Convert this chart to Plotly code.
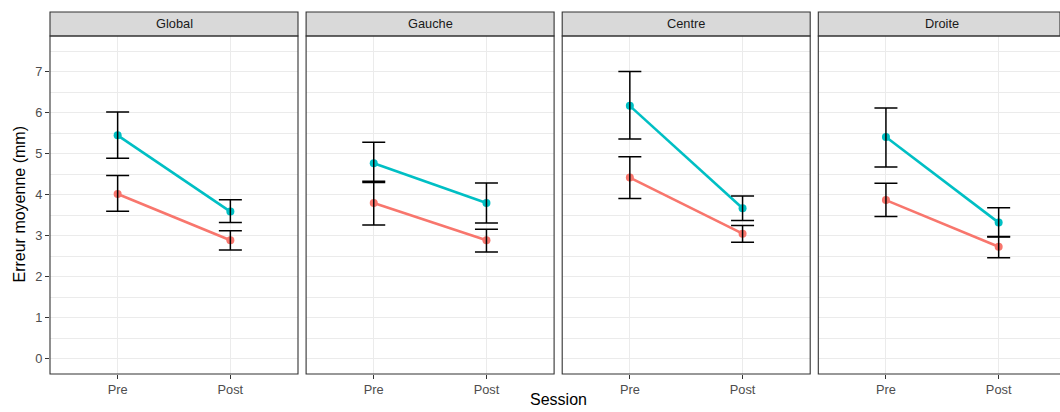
import plotly.graph_objects as go

# ---- data ----
facets = ["Global", "Gauche", "Centre", "Droite"]
sessions = ["Pre", "Post"]
group_names = ["Groupe 1", "Groupe 2"]
group_colors = ["#F8766D", "#00BFC4"]

red_mean = {"Global": [4.02, 2.89], "Gauche": [3.80, 2.89], "Centre": [4.42, 3.05], "Droite": [3.87, 2.73]}
red_upper = {"Global": [4.47, 3.12], "Gauche": [4.33, 3.16], "Centre": [4.93, 3.25], "Droite": [4.28, 2.98]}
red_lower = {"Global": [3.60, 2.65], "Gauche": [3.26, 2.60], "Centre": [3.91, 2.84], "Droite": [3.47, 2.46]}

teal_mean = {"Global": [5.45, 3.59], "Gauche": [4.77, 3.80], "Centre": [6.17, 3.67], "Droite": [5.41, 3.32]}
teal_upper = {"Global": [6.02, 3.88], "Gauche": [5.28, 4.29], "Centre": [7.01, 3.97], "Droite": [6.12, 3.68]}
teal_lower = {"Global": [4.89, 3.32], "Gauche": [4.30, 3.31], "Centre": [5.36, 3.37], "Droite": [4.68, 2.97]}

y_title = "Erreur moyenne (mm)"
x_title = "Session"

# ---- layout geometry (pixels) ----
W, H = 1060, 412
panel_left = 50.0
panel_w = 248.0
panel_gap = 8.1
panel_top = 36.0
panel_bottom = 374.0
strip_top = 12.0
y_range = [-0.375, 7.875]

def px(x):
    return x / W

def py(y):
    return 1 - y / H

fig = go.Figure()
shapes = []
annotations = []

groups = [(red_mean, red_upper, red_lower), (teal_mean, teal_upper, teal_lower)]
xpos = [1, 2]

for i, f in enumerate(facets):
    ax = "" if i == 0 else str(i + 1)
    xa, ya = "x" + ax, "y" + ax
    x0 = panel_left + i * (panel_w + panel_gap)
    x1 = x0 + panel_w
    vis_x1 = min(x1, W)
    xr = [0.4, 0.4 + 2.2 * (vis_x1 - x0) / panel_w]

    # lines + points
    for g, (m, u, l) in enumerate(groups):
        fig.add_trace(go.Scatter(
            x=xpos, y=m[f], mode="lines+markers", xaxis=xa, yaxis=ya,
            name=group_names[g], showlegend=False,
            line=dict(color=group_colors[g], width=2.6),
            marker=dict(color=group_colors[g], size=8),
            hoverinfo="skip"))
    # error bars on top
    for g, (m, u, l) in enumerate(groups):
        fig.add_trace(go.Scatter(
            x=xpos, y=m[f], mode="markers", xaxis=xa, yaxis=ya,
            showlegend=False, hoverinfo="skip",
            marker=dict(size=1, color="rgba(0,0,0,0)"),
            error_y=dict(type="data", symmetric=False,
                         array=[uu - mm for uu, mm in zip(u[f], m[f])],
                         arrayminus=[mm - ll for mm, ll in zip(m[f], l[f])],
                         color="black", thickness=1.5, width=11.5)))

    fig.layout["xaxis" + ax] = dict(
        domain=[px(x0), px(vis_x1)], range=xr, anchor=ya,
        tickmode="array", tickvals=xpos, ticktext=sessions,
        showgrid=True, gridcolor="#EBEBEB", gridwidth=1.1, zeroline=False,
        ticks="outside", ticklen=4, tickcolor="#333333", tickwidth=1,
        tickfont=dict(family="Liberation Sans, Arial", size=12.8, color="#4D4D4D"),
        showline=False, fixedrange=True)
    fig.layout["yaxis" + ax] = dict(
        domain=[py(panel_bottom), py(panel_top)], range=y_range, anchor=xa,
        tickmode="linear", tick0=0, dtick=1,
        showgrid=True, gridcolor="#EBEBEB", gridwidth=1.1, zeroline=False,
        minor=dict(dtick=0.5, tick0=0, showgrid=True, gridcolor="#EBEBEB", gridwidth=0.55, ticks=""),
        ticks="outside" if i == 0 else "", ticklen=4, tickcolor="#333333", tickwidth=1,
        showticklabels=(i == 0),
        tickfont=dict(family="Liberation Sans, Arial", size=12.8, color="#4D4D4D"),
        showline=False, fixedrange=True)

    # panel border (open on right if cut by the window)
    if x1 <= W:
        path = f"M {px(x0)},{py(panel_top)} L {px(x1)},{py(panel_top)} L {px(x1)},{py(panel_bottom)} L {px(x0)},{py(panel_bottom)} Z"
        spath = f"M {px(x0)},{py(strip_top)} L {px(x1)},{py(strip_top)} L {px(x1)},{py(panel_top)} L {px(x0)},{py(panel_top)} Z"
    else:
        path = f"M {px(vis_x1)},{py(panel_top)} L {px(x0)},{py(panel_top)} L {px(x0)},{py(panel_bottom)} L {px(vis_x1)},{py(panel_bottom)}"
        spath = f"M {px(vis_x1)},{py(strip_top)} L {px(x0)},{py(strip_top)} L {px(x0)},{py(panel_top)} L {px(vis_x1)},{py(panel_top)} Z"
    shapes.append(dict(type="path", xref="paper", yref="paper", path=spath,
                       fillcolor="#D9D9D9", line=dict(color="#333333", width=1.1), layer="above"))
    shapes.append(dict(type="path", xref="paper", yref="paper", path=path,
                       line=dict(color="#333333", width=1.1), layer="above"))
    annotations.append(dict(text=f, xref="paper", yref="paper",
                            x=px((x0 + x1) / 2), y=py((strip_top + panel_top) / 2),
                            xanchor="center", yanchor="middle", showarrow=False,
                            font=dict(family="Liberation Sans, Arial", size=12.8, color="#1A1A1A")))

annotations.append(dict(text=y_title, xref="paper", yref="paper",
                        x=px(18.5), y=py((panel_top + panel_bottom) / 2), textangle=-90,
                        xanchor="center", yanchor="middle", showarrow=False,
                        font=dict(family="Liberation Sans, Arial", size=16, color="black")))
annotations.append(dict(text=x_title, xref="paper", yref="paper",
                        x=px(558), y=py(399), xanchor="center", yanchor="middle", showarrow=False,
                        font=dict(family="Liberation Sans, Arial", size=16, color="black")))

fig.update_layout(width=W, height=H, margin=dict(l=0, r=0, t=0, b=0),
                  paper_bgcolor="white", plot_bgcolor="white",
                  shapes=shapes, annotations=annotations, showlegend=False)

fig.write_html("out.html", config={"displayModeBar": False})

# remove default page margin so the figure sits at the window's top-left corner
with open("out.html", "r", encoding="utf-8") as fh:
    html = fh.read()
html = html.replace("<head>", "<head><style>html,body{margin:0;padding:0;overflow:hidden;}</style>", 1)
with open("out.html", "w", encoding="utf-8") as fh:
    fh.write(html)
